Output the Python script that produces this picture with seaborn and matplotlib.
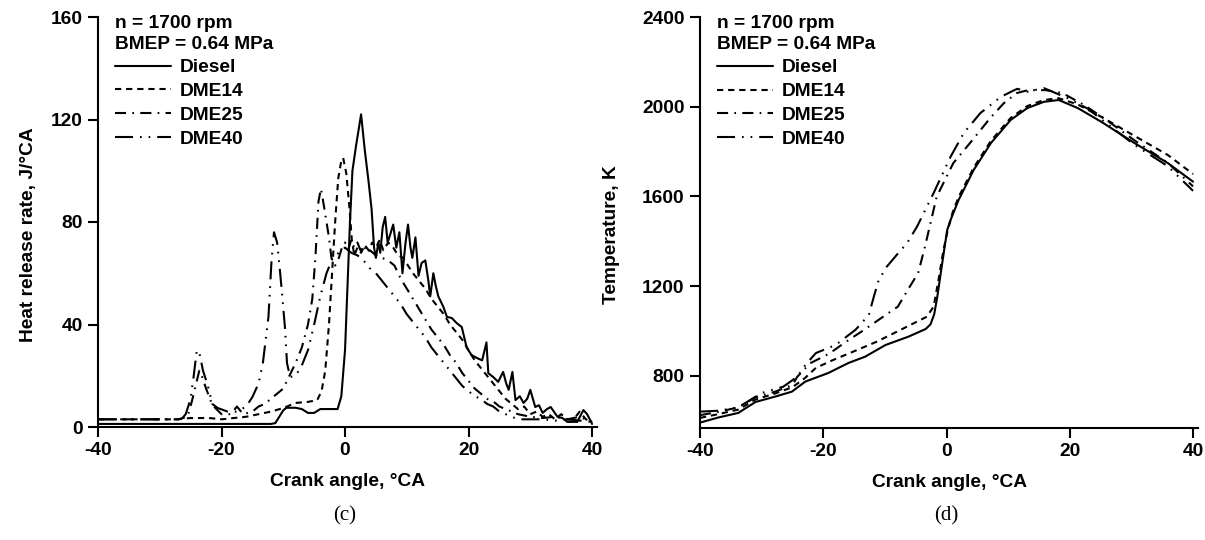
import numpy as np
import pandas as pd
import matplotlib
matplotlib.use("Agg")
import matplotlib.pyplot as plt
import seaborn as sns

# ---- data: heat release rate (panel c) ----
hrr_diesel_ca = [-40, -12, -11.3, -10, -9.5, -8, -7, -6, -5, -4, -2, -1.2, -0.6, 0, 0.4, 0.8, 1.2, 1.8,
                 2.6, 3.2, 3.8, 4.3, 4.7, 5.0, 5.4, 5.7, 6.1, 6.5, 6.9, 7.3, 7.8, 8.3, 8.8, 9.3, 9.8,
                 10.2, 10.6, 10.9, 11.4, 11.9, 12.4, 13, 13.5, 13.8, 14.3, 14.7, 15.1, 15.5, 15.9, 16.5,
                 17.3, 18.1, 18.9, 19.3, 19.7, 20.5, 21.3, 22.2, 22.9, 23.2, 24, 24.8, 25.6, 26.1, 26.5,
                 27.1, 27.6, 28.3, 28.9, 29.5, 30, 30.8, 31.4, 32, 32.7, 33.3, 34.4, 35.2, 36, 37.6,
                 38.6, 39.2, 39.7, 40]
hrr_diesel = [1.2, 1.2, 1.5, 6.5, 7.5, 7.5, 7, 5.5, 5.5, 7, 7, 7, 12, 30, 55, 80, 100, 110,
              122, 108, 96, 85, 70, 66, 72, 68, 78, 82, 72, 75, 79, 70, 76, 60, 72,
              79, 70, 66, 74, 59, 64, 65, 57, 51, 60, 55, 51, 49, 47, 43,
              42.5, 40.5, 39, 35, 31, 28, 27, 26, 33, 21, 19.5, 17.6, 21.5, 17, 14.5,
              21.5, 10.5, 12, 9.4, 11, 14.5, 7.8, 8.5, 5.5, 7, 7.8, 4, 3.5, 2, 2,
              6.6, 5, 2.7, 1.2]

hrr_dme14_ca = [-40, -27, -25, -22, -20, -18, -16, -14, -12, -10, -8, -6, -4.5, -3.8, -3.2, -2.6, -2.1,
                -1.6, -1.1, -0.6, -0.3, 0.2, 0.7, 1.1, 1.5, 2, 2.6, 3.2, 3.8, 4.4, 5, 5.6, 6.2, 7,
                7.8, 8.6, 9.4, 10.2, 11, 12, 13, 14, 15, 16, 17, 18, 19, 20, 21, 22, 23, 24, 25, 26,
                27, 28, 29, 30, 31, 32, 33, 34, 35, 36, 37, 38, 39, 40]
hrr_dme14 = [3, 3, 3.5, 3.5, 3, 3.5, 4, 5, 6, 7.4, 9.4, 9.8, 10.5, 14, 22, 40, 60,
             80, 97, 104, 105, 99, 86, 73, 67, 70, 68, 71, 69, 72, 70, 73, 69, 72,
             70, 67, 66, 63, 60, 57, 54, 50, 47, 44, 40, 37, 34, 30, 26, 23, 20, 17, 14, 11,
             9, 7, 8, 5, 6, 4, 5, 3, 5, 3, 3, 6, 3, 2]

hrr_dme25_ca = [-40, -27, -25.5, -24.8, -24.2, -23.6, -23.2, -22.5, -21.5, -20, -18.5, -17.5, -16.5,
                -15, -14, -13, -12, -11, -10, -9.2, -8, -7, -6, -5.3, -4.8, -4.3, -3.9, -3.4, -3,
                -2.6, -2.2, -1.6, -1, -0.5, 0, 0.5, 1, 1.5, 2, 2.5, 3, 3.5, 4, 5, 6, 7, 8, 9, 10,
                11, 12, 13, 14, 15, 16, 17, 18, 19, 20, 21, 22, 23, 24, 25, 26, 27, 28, 30, 32,
                34, 36, 38, 40]
hrr_dme25 = [3, 3, 4, 10, 16, 22, 20, 15, 8.6, 5, 5, 8, 5,
             6, 8, 9, 11, 13, 15, 19, 25, 31, 40, 50, 66, 88, 93, 86, 80,
             74, 66, 63, 66, 70, 72, 69, 73, 70, 72, 69, 71, 68, 69, 67, 66, 65, 63, 58, 54,
             50, 46, 42, 38, 35, 32, 28, 25, 21, 18, 15, 13, 11, 10, 8, 7, 6, 5, 4, 3.5,
             4, 3, 4, 2]

hrr_dme40_ca = [-40, -26.5, -25.8, -25, -24.5, -24, -23.5, -23, -22.2, -21.5, -20.6, -19, -17.5, -16,
                -15, -14, -13.3, -12.8, -12.4, -11.9, -11.5, -11, -10.5, -10.2, -9.7, -9.4, -8.9,
                -8, -7, -6, -5, -4, -3, -2, -1, 0, 1, 2, 3, 4, 5, 6, 7, 8, 9, 10, 11, 12, 13, 14,
                15, 16, 17, 18, 19, 20, 21, 22, 23, 24, 25, 26, 27, 28, 30, 32, 34, 36, 38, 40]
hrr_dme40 = [3, 3, 5, 11, 20, 30, 28, 22, 16, 9, 7.4, 6, 6, 8,
             11.7, 17, 25, 35, 43, 65, 76, 72, 60, 52, 38, 25, 19.5,
             20, 24, 30, 40, 51, 60, 66, 68, 70, 68, 67, 65, 62, 60, 57, 54, 51, 48, 44, 41, 38, 35, 31,
             28, 25, 22, 19, 16, 14, 12, 11, 9, 8, 6, 5, 4, 3, 3, 3, 2.5, 3, 2.5, 2]

# ---- data: in-cylinder temperature (panel d) ----
temp_diesel_ca = [-40, -37, -33.8, -31, -27.8, -25.1, -22.9, -19.2, -15.9, -13.2, -9.9, -6.2, -3.4,
                  -2.6, -2.0, -1.5, -0.7, 0.1, 0.65, 1.95, 4.4, 7.2, 10.4, 13.1, 15.8, 18.2, 21.3,
                  25.1, 30.5, 35.9, 40]
temp_diesel = [592, 615, 635, 684, 708, 730, 775, 813, 858, 886, 938, 975, 1009,
               1030, 1075, 1153, 1303, 1450, 1495, 1584, 1718, 1838, 1941, 1994, 2022, 2030, 1994,
               1933, 1838, 1749, 1666]

temp_dme14_ca = [-40, -37, -33.8, -31, -27.8, -25, -23, -21.2, -18.5, -15.7, -11.3, -6.4, -3.2, -2.1,
                 -1.3, -0.5, 0.2, 1, 2, 4.4, 7.2, 10.4, 13.1, 15.8, 18.2, 21.3, 25.1, 30.5, 35.9, 40]
temp_dme14 = [613, 630, 650, 695, 722, 750, 790, 836, 870, 902, 953, 1020, 1064, 1109,
              1228, 1361, 1450, 1530, 1600, 1728, 1848, 1950, 2003, 2030, 2038, 2010, 1955, 1870, 1785, 1700]

temp_dme25_ca = [-40, -37, -33.8, -31, -27.8, -25, -24.2, -22.1, -19, -16.6, -13.4, -10.6, -7.9, -6.3,
                 -4.6, -3.5, -1.6, 1.1, 3.8, 7.1, 9.3, 11.4, 13.2, 16.1, 18.8, 22.3, 26, 30.5, 35.9, 40]
temp_dme25 = [625, 640, 660, 705, 730, 760, 797, 857, 900, 947, 1005, 1058, 1109, 1183,
              1259, 1376, 1599, 1749, 1838, 1950, 2016, 2061, 2074, 2074, 2061, 2008, 1940, 1850, 1750, 1645]

temp_dme40_ca = [-40, -37, -33.8, -30, -26.5, -24.2, -22.9, -21.2, -18, -14.8, -12.6, -11.8, -11, -9.7,
                 -8.1, -6.4, -4.8, -2.1, 0.65, 2.8, 5.5, 8.8, 11, 11.5, 13.1, 15.8, 19.6, 23, 26,
                 30.5, 35.9, 40]
temp_dme40 = [641, 645, 660, 724, 752, 797, 849, 902, 938, 1005, 1072, 1153, 1228, 1287,
              1339, 1392, 1465, 1615, 1777, 1883, 1972, 2044, 2074, 2080, 2067, 2083, 2039, 1990, 1925,
              1830, 1735, 1625]

fuels = ["Diesel", "DME14", "DME25", "DME40"]
x_ticks = [-40, -20, 0, 20, 40]
hrr_ticks = [0, 40, 80, 120, 160]
temp_ticks = [800, 1200, 1600, 2000, 2400]

# line styles (points, not scaled with width)
styles = {
    "Diesel": "-",
    "DME14": (0, (4.5, 3.5)),
    "DME25": (0, (8, 4.5, 1.2, 4.5)),
    "DME40": (0, (13, 5, 1.2, 5, 1.2, 5)),
}

sns.set_theme(style="ticks")
plt.rcParams["font.family"] = ["Liberation Sans", "DejaVu Sans"]
plt.rcParams["font.weight"] = "bold"
plt.rcParams["lines.scale_dashes"] = False
for key in ["text.color", "axes.labelcolor", "xtick.color", "ytick.color", "axes.edgecolor"]:
    plt.rcParams[key] = "black"

FS = 13.8

fig = plt.figure(figsize=(12.05, 5.4), dpi=100)
ax1 = fig.add_axes([98 / 1205, 113 / 540, 499 / 1205, 410 / 540])
ax2 = fig.add_axes([700 / 1205, 112 / 540, 498 / 1205, 411 / 540])

hrr_data = {
    "Diesel": (hrr_diesel_ca, hrr_diesel),
    "DME14": (hrr_dme14_ca, hrr_dme14),
    "DME25": (hrr_dme25_ca, hrr_dme25),
    "DME40": (hrr_dme40_ca, hrr_dme40),
}
temp_data = {
    "Diesel": (temp_diesel_ca, temp_diesel),
    "DME14": (temp_dme14_ca, temp_dme14),
    "DME25": (temp_dme25_ca, temp_dme25),
    "DME40": (temp_dme40_ca, temp_dme40),
}


def draw(ax, data, ylim, yticks, ylabel, ylab_x):
    for fuel in fuels:
        xs, ys = data[fuel]
        df = pd.DataFrame({"ca": xs, "val": ys})
        sns.lineplot(data=df, x="ca", y="val", ax=ax, color="black", lw=1.5,
                     linestyle=styles[fuel], sort=False, estimator=None, label=fuel)
    ax.set_xlim(-40, 40.8)
    ax.set_ylim(*ylim)
    ax.set_xticks(x_ticks)
    ax.set_yticks(yticks)
    ax.set_xticklabels([str(t) for t in x_ticks], fontsize=FS, fontweight="bold")
    ax.set_yticklabels([str(t) for t in yticks], fontsize=FS, fontweight="bold")
    ax.tick_params(direction="out", length=7, width=1.5, pad=4, colors="black")
    for s in ["top", "right"]:
        ax.spines[s].set_visible(False)
    for s in ["left", "bottom"]:
        ax.spines[s].set_linewidth(1.5)
        ax.spines[s].set_color("black")
    ax.set_xlabel("Crank angle, °CA", fontsize=FS, fontweight="bold")
    ax.set_ylabel(ylabel, fontsize=FS, fontweight="bold")
    ax.xaxis.set_label_coords(0.5, -0.112)
    ax.yaxis.set_label_coords(ylab_x, 0.47)
    ax.text(0.034, 0.984, "n = 1700 rpm", transform=ax.transAxes, fontsize=FS,
            fontweight="bold", va="center", ha="left")
    ax.text(0.034, 0.932, "BMEP = 0.64 MPa", transform=ax.transAxes, fontsize=FS,
            fontweight="bold", va="center", ha="left")
    leg = ax.legend(loc="upper left", bbox_to_anchor=(0.034, 0.898), frameon=False,
                    borderpad=0, borderaxespad=0, handlelength=2.9, handletextpad=0.5,
                    labelspacing=0.34, prop={"size": FS, "weight": "bold"})
    for line in leg.get_lines():
        line.set_linewidth(1.5)
    ax.set_facecolor("white")


draw(ax1, hrr_data, (0, 160), hrr_ticks, "Heat release rate, J/°CA", -0.122)
draw(ax2, temp_data, (568, 2400), temp_ticks, "Temperature, K", -0.161)

fig.text(345 / 1205, 1 - 516 / 540, "(c)", ha="center", va="center", fontsize=15,
         family="Liberation Serif", fontweight="normal")
fig.text(946 / 1205, 1 - 516 / 540, "(d)", ha="center", va="center", fontsize=15,
         family="Liberation Serif", fontweight="normal")

fig.savefig("out.png", dpi=100, facecolor="white")
